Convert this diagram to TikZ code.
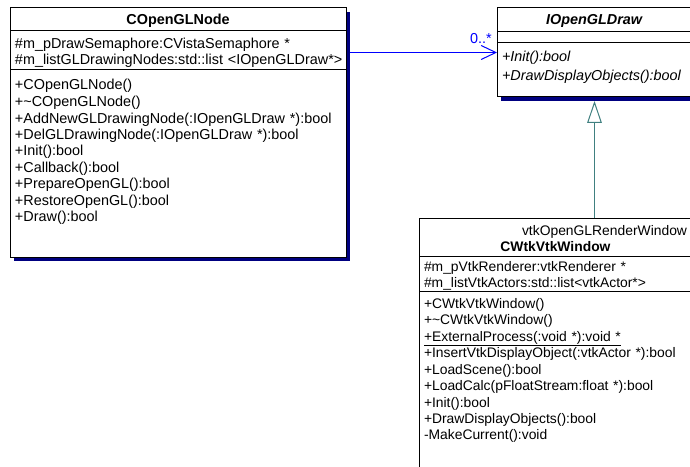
\documentclass[tikz,border=0pt]{standalone}
\usepackage{fontspec}
\setmainfont{Liberation Sans}
\usetikzlibrary{positioning,arrows.meta,backgrounds}
\definecolor{roseshadow}{RGB}{0,0,128}
\definecolor{assocblue}{RGB}{0,0,255}
\definecolor{genteal}{RGB}{64,128,128}
\newcommand{\umlfont}{\fontsize{10.8pt}{12pt}\selectfont}
\newcommand{\umlmethfont}{\fontsize{10.8pt}{12.375pt}\selectfont}
\newcommand{\umlifacefont}{\fontsize{10.8pt}{14.25pt}\selectfont}
\newcommand{\vtkfont}{\fontsize{10.4pt}{12pt}\selectfont}
\newcommand{\vtkmethfont}{\fontsize{10.4pt}{12.375pt}\selectfont}

\begin{document}
\hyphenpenalty=10000
\exhyphenpenalty=10000
\begin{tikzpicture}[x=0.75pt, y=-0.75pt,
  part/.style={draw, fill=white, line width=0.75pt, outer sep=0pt,
               inner xsep=3.75pt, inner ysep=0pt, font=\umlfont, align=left},
  coglpart/.style={part, text width=244.5pt},
  idrawpart/.style={part, text width=138.75pt},
  cwtkpart/.style={part, text width=197.25pt},
  shadowfill/.style={fill=roseshadow},
  assoc/.style={assocblue, line width=0.75pt, -{Straight Barb[length=11pt, width=10.5pt]}},
  gen/.style={genteal, line width=0.75pt, -{Triangle[open, length=16.5pt, width=11pt]}}
]
  \useasboundingbox (0,0) rectangle (690,467);

  % COpenGLNode
  \node[coglpart, align=center, anchor=north west, text height=12.375pt, text depth=4.875pt]
    (coglname) at (10,8) {\textbf{COpenGLNode}};
  \node[coglpart, below=0pt of coglname, text height=13.5pt, text depth=15.75pt] (coglattr)
    {\mbox{\#m\_pDrawSemaphore:CVistaSemaphore *}\\
     \mbox{\#m\_listGLDrawingNodes:std::list <IOpenGLDraw*>}};
  \node[coglpart, below=0pt of coglattr, text height=15pt, text depth=125.25pt,
        font=\umlmethfont] (coglmeth)
    {+COpenGLNode()\\
     +\textasciitilde COpenGLNode()\\
     \mbox{+AddNewGLDrawingNode(:IOpenGLDraw *):bool}\\
     \mbox{+DelGLDrawingNode(:IOpenGLDraw *):bool}\\
     +Init():bool\\
     +Callback():bool\\
     +PrepareOpenGL():bool\\
     +RestoreOpenGL():bool\\
     +Draw():bool};

  % IOpenGLDraw
  \node[idrawpart, align=center, anchor=north west, text height=12.75pt, text depth=5.25pt]
    (idrawname) at (497,8) {\textbf{\textit{IOpenGLDraw}}};
  \node[idrawpart, below=0pt of idrawname, text height=0pt, text depth=8.25pt] (idrawattr) {};
  \node[idrawpart, below=0pt of idrawattr, text height=14.25pt, text depth=26.25pt,
        font=\umlifacefont] (idrawmeth)
    {\textit{+Init():bool}\\
     \textit{+DrawDisplayObjects():bool}};

  % CWtkVtkWindow
  \node[cwtkpart, align=center, anchor=north west, text height=12.75pt, text depth=15.75pt,
        font=\fontsize{10.4pt}{12.75pt}\selectfont]
    (cwtkname) at (419,218) {\hfill vtkOpenGLRenderWindow\\ \textbf{CWtkVtkWindow}};
  \node[cwtkpart, below=0pt of cwtkname, text height=12pt, text depth=14.25pt,
        font=\vtkfont] (cwtkattr)
    {\mbox{\#m\_pVtkRenderer:vtkRenderer *}\\
     \#m\_listVtkActors:std::list<vtkActor*>};
  \node[cwtkpart, below=0pt of cwtkattr, text height=12.75pt, text depth=129pt,
        font=\vtkmethfont] (cwtkmeth)
    {+CWtkVtkWindow()\\
     +\textasciitilde CWtkVtkWindow()\\
     \underline{+ExternalProcess(:void *):void *}\\
     \mbox{+InsertVtkDisplayObject(:vtkActor *):bool}\\
     +LoadScene():bool\\
     \mbox{+LoadCalc(pFloatStream:float *):bool}\\
     +Init():bool\\
     +DrawDisplayObjects():bool\\
     -MakeCurrent():void};

  % Shadows
  \begin{scope}[on background layer]
    \fill[shadowfill] ([shift={(4,4)}]coglname.north west) rectangle ([shift={(4,4)}]coglmeth.south east);
    \fill[shadowfill] ([shift={(4,4)}]idrawname.north west) rectangle ([shift={(4,4)}]idrawmeth.south east);
    \fill[shadowfill] ([shift={(4,4)}]cwtkname.north west) rectangle ([shift={(4,4)}]cwtkmeth.south east);
  \end{scope}

  % Association and generalization
  \coordinate (assocend) at (coglattr.east -| idrawname.west);
  \draw[assoc] ([shift={(4,2)}]coglattr.east) -- ([shift={(0,2)}]assocend);
  \node[assocblue, font=\umlfont, anchor=base east, inner sep=0pt] (mult)
    at ([shift={(-5,-7)}]assocend) {0..*};
  \draw[gen] (idrawmeth.south |- cwtkname.north) -- ([yshift=-3pt]idrawmeth.south);
\end{tikzpicture}
\end{document}
